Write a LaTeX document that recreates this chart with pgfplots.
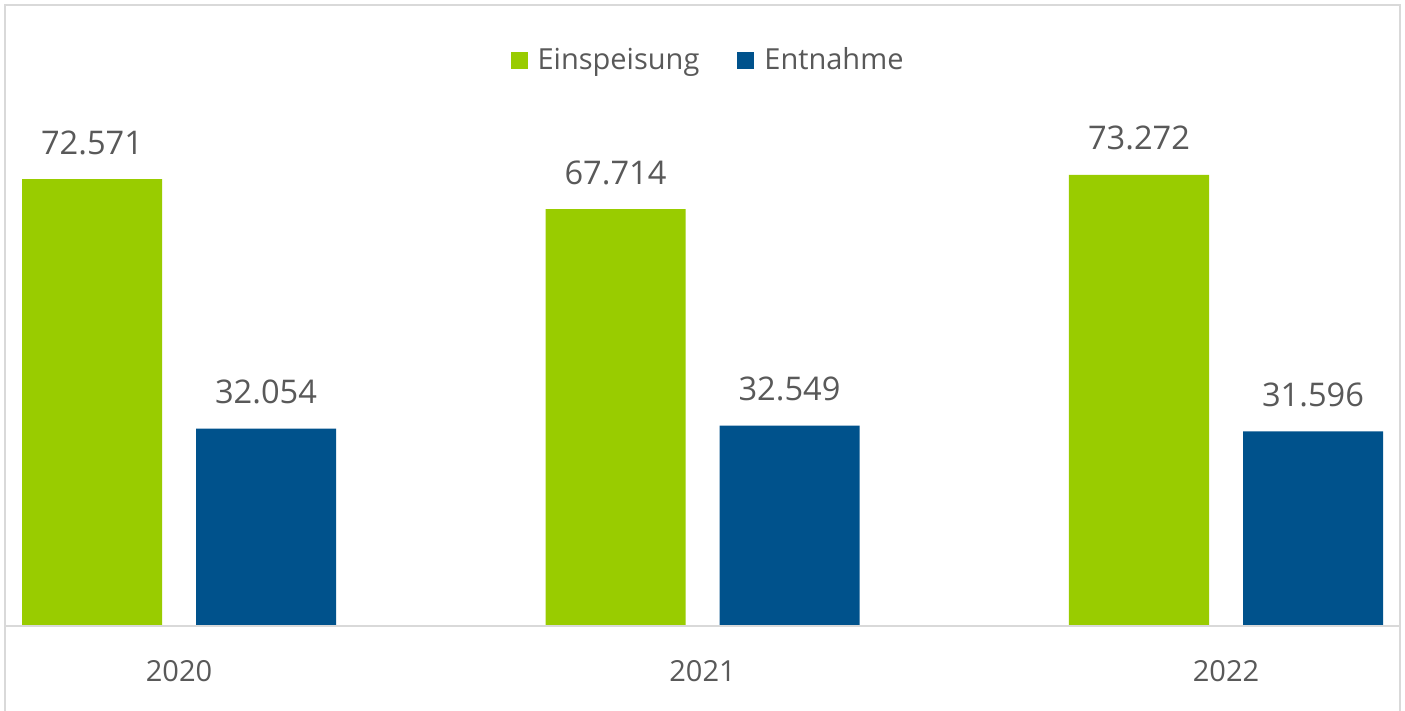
\documentclass[border=0pt]{standalone}
\usepackage{pgfplots}
\pgfplotsset{compat=1.18}
\usepackage{fontspec}
\setmainfont{Open Sans}
\definecolor{cgreen}{RGB}{153,204,0}
\definecolor{cblue}{RGB}{0,82,140}
\definecolor{ctext}{RGB}{89,89,89}
\definecolor{cborder}{RGB}{217,217,217}
\newcommand{\chartfont}{\fontsize{14.5}{17}\selectfont}
\newcommand{\labelfont}{\fontsize{16.3}{19}\selectfont}
\begin{document}
\begin{tikzpicture}
\useasboundingbox (-2.5pt,-42.5pt) rectangle (700pt,313pt);
\fill[white] (-2.5pt,-42.5pt) rectangle (700pt,313pt);
\draw[cborder, line width=1pt] (0pt,-45pt) -- (0pt,310.5pt) -- (697.5pt,310.5pt) -- (697.5pt,-45pt);
\begin{axis}[
  at={(0pt,0pt)}, anchor=south west,
  scale only axis, width=697.5pt, height=307.9pt,
  xmin=-0.3324, xmax=2.3324, ymin=0, ymax=100000,
  axis line style={draw=none},
  ytick=\empty,
  xtick={0,1,2}, xticklabels={2020,2021,2022},
  major tick length=0pt,
  xticklabel style={anchor=base, yshift=-27.8pt, font=\chartfont, text=ctext},
  ybar, bar width=70pt,
  nodes near coords={\pgfmathprintnumber[fixed,precision=0,1000 sep={.},assume math mode=true]{\pgfplotspointmeta}},
  every node near coord/.append style={anchor=base, yshift=12.5pt, font=\labelfont, text=ctext, inner sep=0pt},
  legend columns=2,
  legend style={draw=none, fill=none, at={(0.5047,0.919)}, anchor=center, font=\chartfont, text=ctext,
    /tikz/every even column/.append style={column sep=17pt}},
  legend image code/.code={\fill[#1] (0pt,-4.25pt) rectangle (8.5pt,4.25pt); \path (11.5pt,0pt);},
  clip=false,
]
\addplot[fill=cgreen, draw=none, bar shift=-43.5pt] coordinates {(0,72571) (1,67714) (2,73272)};
\addlegendentry{Einspeisung}
\addplot[fill=cblue, draw=none, bar shift=43.5pt] coordinates {(0,32054) (1,32549) (2,31596)};
\addlegendentry{Entnahme}
\draw[cborder, line width=1.2pt] (rel axis cs:0,0) -- (rel axis cs:1,0);
\end{axis}
\end{tikzpicture}
\end{document}
